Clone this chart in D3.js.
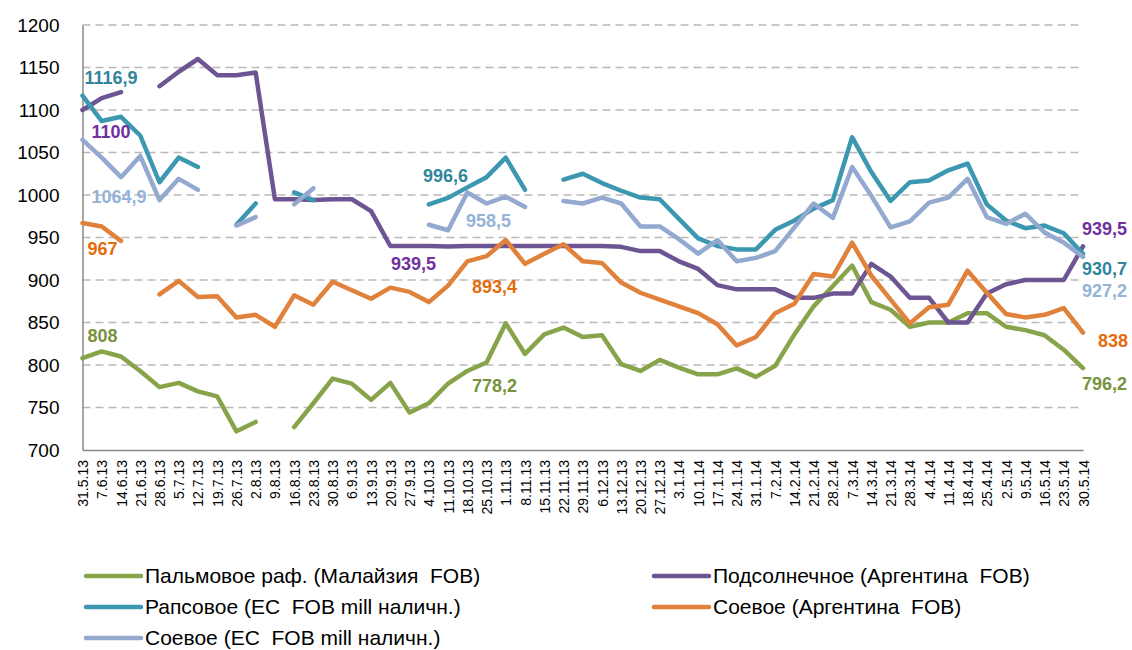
<!DOCTYPE html>
<html>
<head>
<meta charset="utf-8">
<script src="https://cdn.jsdelivr.net/npm/d3@7"></script>
<style>
  body { margin: 0; background: #fff; }
  svg { display: block; font-family: "Liberation Sans", Arial, sans-serif; }
</style>
</head>
<body>
<svg id="chart"></svg>
<script>
let dates = [
  "31.5.13", "7.6.13", "14.6.13", "21.6.13", "28.6.13", "5.7.13", "12.7.13", "19.7.13", "26.7.13", "2.8.13",
  "9.8.13", "16.8.13", "23.8.13", "30.8.13", "6.9.13", "13.9.13", "20.9.13", "27.9.13", "4.10.13", "11.10.13",
  "18.10.13", "25.10.13", "1.11.13", "8.11.13", "15.11.13", "22.11.13", "29.11.13", "6.12.13", "13.12.13", "20.12.13",
  "27.12.13", "3.1.14", "10.1.14", "17.1.14", "24.1.14", "31.1.14", "7.2.14", "14.2.14", "21.2.14", "28.2.14",
  "7.3.14", "14.3.14", "21.3.14", "28.3.14", "4.4.14", "11.4.14", "18.4.14", "25.4.14", "2.5.14", "9.5.14",
  "16.5.14", "23.5.14", "30.5.14"
];

let yTicks = [700, 750, 800, 850, 900, 950, 1000, 1050, 1100, 1150, 1200];

// Пальмовое раф. (Малайзия FOB)
let palm = [
  808, 816, 810, 793, 774, 779, 769, 763, 722, 733,
  null, 727, 755, 784, 778, 759, 779, 744, 755, 778.2,
  793, 803, 849, 813, 836, 844, 833, 835, 801, 793,
  806, 797, 789, 789, 796, 786, 799, 836, 869, 893,
  917, 874, 865, 845, 850, 850, 861, 861, 845, 841,
  835, 818, 796.2
];

// Подсолнечное (Аргентина FOB)
let sunflower = [
  1100, 1114, 1121, null, 1128, 1145, 1160, 1141, 1141, 1144,
  995, 995, 994, 995, 995, 981, 940, 940, 940, 939.5,
  940, 940, 940, 940, 940, 940, 940, 940, 939, 934,
  934, 922, 913, 894, 889, 889, 889, 879, 879, 884,
  884, 919, 904, 879, 879, 850, 850, 884, 895, 900,
  900, 900, 939.5
];

// Рапсовое (ЕС FOB mill наличн.)
let rapeseed = [
  1116.9, 1087, 1092, 1070, 1015, 1044, 1033, null, 965, 990,
  null, 1003, 994, null, null, null, null, null, 989, 996.6,
  1009, 1021, 1044, 1006, null, 1018, 1025, 1014, 1005, 997,
  995, 972, 949, 940, 936, 936, 959, 970, 984, 994,
  1068, 1027, 993, 1015, 1017, 1029, 1037, 989, 970, 961,
  964, 955, 930.7
];

// Соевое (Аргентина FOB)
let soyArg = [
  967, 963, 946, null, 883, 899, 880, 881, 856, 859,
  845, 882, 871, 898, 888, 878, 891, 886, 874, 893.4,
  922, 928, 947, 919, 931, 942, 922, 920, 897, 885,
  877, 869, 861, 848, 823, 833, 861, 872, 907, 904,
  944, 905, 877, 849, 868, 871, 911, 885, 860, 856,
  859, 867, 838
];

// Соевое (ЕС FOB mill наличн.)
let soyEu = [
  1064.9, 1044, 1021, 1046, 994, 1019, 1006, null, 964, 974,
  null, 989, 1008, null, null, null, null, null, 965, 958.5,
  1003, 990, 998, 986, null, 993, 990, 997, 990, 963,
  963, 948, 931, 947, 922, 926, 934, 962, 990, 973,
  1033, 999, 962, 969, 991, 997, 1019, 974, 966, 978,
  956, 944, 927.2
];

let series = [
  { name: "Пальмовое раф. (Малайзия  FOB)", values: palm, color: "#88a44b", labelColor: "#77933c" },
  { name: "Подсолнечное (Аргентина  FOB)", values: sunflower, color: "#6d5593", labelColor: "#7030a0" },
  { name: "Рапсовое (ЕС  FOB mill наличн.)", values: rapeseed, color: "#3c98b0", labelColor: "#31859c" },
  { name: "Соевое (Аргентина  FOB)", values: soyArg, color: "#e0823b", labelColor: "#e46c0a" },
  { name: "Соевое (ЕС  FOB mill наличн.)", values: soyEu, color: "#93a9cf", labelColor: "#95b3d7" }
];

// which points get a value label, and where the text sits relative to the point
let labels = [
  { s: 2, i: 0, dx: 2, dy: -12 },
  { s: 1, i: 0, dx: 9, dy: 28 },
  { s: 4, i: 0, dx: 9, dy: 63 },
  { s: 3, i: 0, dx: 5, dy: 32 },
  { s: 0, i: 0, dx: 5, dy: -16 },
  { s: 2, i: 19, dx: -25, dy: -16 },
  { s: 4, i: 19, dx: 18, dy: -3 },
  { s: 1, i: 19, dx: -57, dy: 24 },
  { s: 3, i: 19, dx: 24, dy: 7 },
  { s: 0, i: 19, dx: 24, dy: 8 },
  { s: 1, i: 52, dx: -1, dy: -11 },
  { s: 2, i: 52, dx: -1, dy: 21 },
  { s: 4, i: 52, dx: -1, dy: 40 },
  { s: 3, i: 52, dx: 15, dy: 14 },
  { s: 0, i: 52, dx: -1, dy: 22 }
];

let width = 1132;
let height = 650;
let plotLeft = 82.5;
let plotRight = 1083;
let plotTop = 25;
let plotBottom = 450;

let svg = d3.select("#chart").attr("width", width).attr("height", height);

let xScale = d3.scalePoint().domain(dates).range([plotLeft, plotRight]);
let yScale = d3.scaleLinear().domain([700, 1200]).range([plotBottom, plotTop]);

// gridlines
svg.append("g")
  .selectAll("line")
  .data(yTicks.filter((t) => t > 700))
  .enter()
  .append("line")
  .attr("x1", plotLeft)
  .attr("x2", plotRight)
  .attr("y1", (t) => yScale(t))
  .attr("y2", (t) => yScale(t))
  .attr("stroke", "#b9b9b9")
  .attr("stroke-width", 1.5)
  .attr("stroke-dasharray", "8,5");

// y axis
let yAxis = d3.axisLeft(yScale)
  .tickValues(yTicks)
  .tickFormat(d3.format("d"))
  .tickSize(0)
  .tickPadding(23);
let gy = svg.append("g").attr("transform", "translate(" + plotLeft + ",0)").call(yAxis);
gy.select(".domain").attr("stroke", "#898989").attr("stroke-width", 1.5);
gy.selectAll("text")
  .attr("font-size", 19)
  .attr("fill", "#000")
  .style("font-family", "'Liberation Sans', Arial, sans-serif");

// x axis
let xAxis = d3.axisBottom(xScale).tickSize(0).tickPadding(0);
let gx = svg.append("g").attr("transform", "translate(0," + plotBottom + ")").call(xAxis);
gx.select(".domain").attr("stroke", "#898989").attr("stroke-width", 1.5);
gx.selectAll("text")
  .attr("font-size", 14)
  .attr("fill", "#000")
  .style("font-family", "'Liberation Sans', Arial, sans-serif")
  .attr("text-anchor", "end")
  .attr("transform", "rotate(-90)")
  .attr("x", -10)
  .attr("y", 0)
  .attr("dy", "0.36em");

// lines
let line = d3.line()
  .defined((d) => d != null)
  .x((d, i) => xScale(dates[i]))
  .y((d) => yScale(d));

svg.append("g")
  .selectAll("path")
  .data(series)
  .enter()
  .append("path")
  .attr("d", (s) => line(s.values))
  .attr("fill", "none")
  .attr("stroke", (s) => s.color)
  .attr("stroke-width", 4.5)
  .attr("stroke-linejoin", "round")
  .attr("stroke-linecap", "round");

// value labels
let fmt = (v) => String(v).replace(".", ",");

svg.append("g")
  .selectAll("text")
  .data(labels)
  .enter()
  .append("text")
  .attr("x", (l) => xScale(dates[l.i]) + l.dx)
  .attr("y", (l) => yScale(series[l.s].values[l.i]) + l.dy)
  .attr("fill", (l) => series[l.s].labelColor)
  .attr("font-size", 18)
  .attr("font-weight", "bold")
  .text((l) => fmt(series[l.s].values[l.i]));

// legend
let legendPos = [
  { x: 86, y: 576 },
  { x: 654, y: 576 },
  { x: 86, y: 607 },
  { x: 654, y: 607 },
  { x: 86, y: 638 }
];
let legendOrder = [0, 1, 2, 3, 4];

let legend = svg.append("g")
  .selectAll("g")
  .data(legendOrder)
  .enter()
  .append("g")
  .attr("transform", (d, k) => "translate(" + legendPos[k].x + "," + legendPos[k].y + ")");

legend.append("line")
  .attr("x1", 0)
  .attr("x2", 55)
  .attr("stroke", (d) => series[d].color)
  .attr("stroke-width", 4.5)
  .attr("stroke-linecap", "round");

legend.append("text")
  .attr("x", 59)
  .attr("dy", "0.35em")
  .attr("font-size", 21)
  .attr("fill", "#000")
  .style("white-space", "pre")
  .text((d) => series[d].name);
</script>
</body>
</html>
